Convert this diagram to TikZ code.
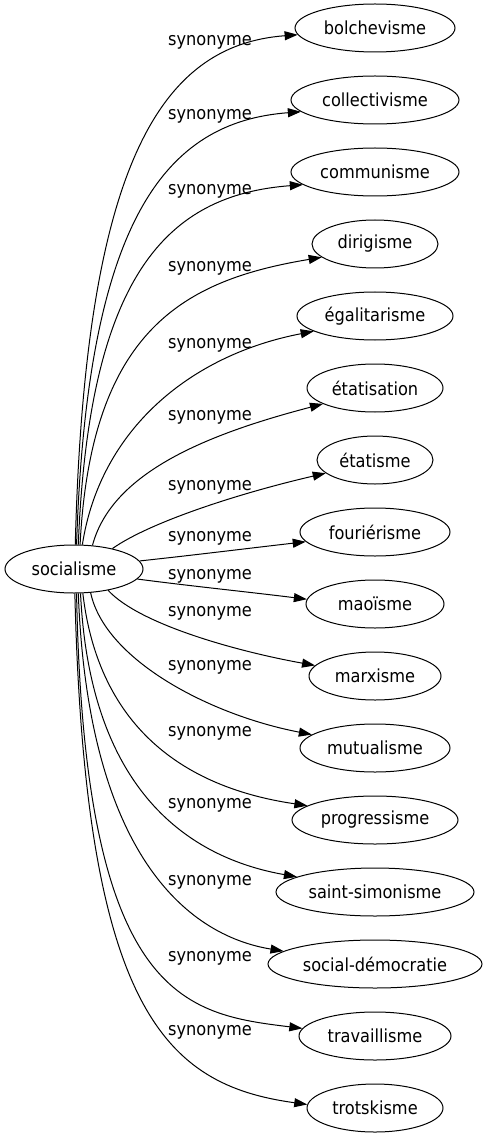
\documentclass[tikz,border=0pt]{standalone}
\usepackage{fontspec}
\setmainfont{DejaVu Sans Condensed}
\usetikzlibrary{arrows.meta,shapes.geometric}

\begin{document}
\begin{tikzpicture}[x=1pt, y=-1pt,
  mot/.style={ellipse, draw, line width=1pt, inner sep=0pt, minimum height=48pt, font=\fontsize{18}{22}\selectfont},
  syn/.style={inner sep=0pt, font=\fontsize{18}{22}\selectfont},
  fleche/.style={line width=1pt, -{Triangle[length=13pt,width=9pt]}}]
\useasboundingbox (0,0) rectangle (488,1139);

\node[mot, minimum width=138pt] (src) at (74,569) {socialisme};

\foreach \n/\w/\t [count=\i] in {bol/160/bolchevisme, col/168/collectivisme, com/168/communisme,
  dir/126/dirigisme, ega/156/égalitarisme, etn/136/étatisation, ets/116/étatisme,
  fou/150/fouriérisme, mao/138/maoïsme, mar/132/marxisme, mut/150/mutualisme,
  pro/166/progressisme, ss/198/saint-simonisme, sd/214/social-démocratie,
  tra/152/travaillisme, tro/136/trotskisme}
\node[mot, minimum width=\w pt] (\n) at (375,{28+72*(\i-1)}) {\t};

%\draw[help lines] (0,0) grid[step=50] (488,1139);
\foreach \n/\a/\b/\ax/\ay/\bx/\by in {bol/87/185/85/163/161/45, col/84/189/87/220/165/122,
  com/80/190/89/275/167/195, dir/76/194/91/329/185/280, ega/71/194/100/430/190/355,
  etn/52/197/112/472/208/434, ets/28/195/150/522/240/493, fou/7/188/195/555/251/548,
  mao/-9/176/190/586/249/592, mar/-32/170/140/625/240/652, mut/-55/168/105/660/210/715,
  pro/-70/168/100/740/200/790, ss/-75/169/90/792/190/858, sd/-80/172/88/851/185/935,
  tra/-84/174/84/1000/185/1014, tro/-88/177/85/1010/165/1085}
\draw[fleche] (src.\a) .. controls (\ax,\ay) and (\bx,\by) .. (\n.\b);

\foreach \y [count=\i] in {42,116,191,268,345,417,487,538,576,613,667,733,805,882,958,1032}
\node[syn] (l\i) at (210,\y) {synonyme};
\end{tikzpicture}
\end{document}
